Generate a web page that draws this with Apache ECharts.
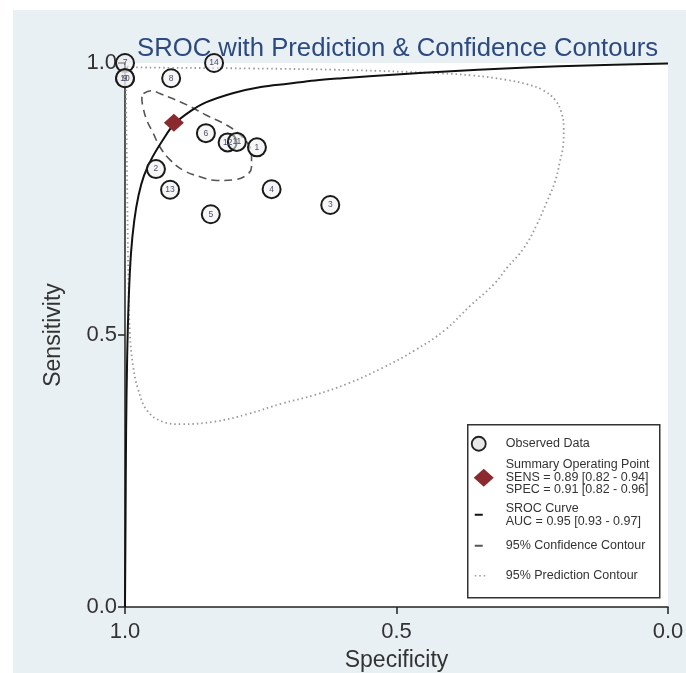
<!DOCTYPE html>
<html>
	<head>
		<meta charset="utf-8" />
		<title>SROC</title>
		<script src="https://cdn.jsdelivr.net/npm/echarts@6.0.0/dist/echarts.min.js"></script>
		<style>
			html, body {
				margin: 0;
				padding: 0;
				background: #fff;
			}
			#chart {
				width: 686px;
				height: 673px;
			}
		</style>
	</head>
	<body>
		<div id="chart"></div>
		<script>
			// 研究编号 / 特异度 / 灵敏度
			var studyNo = ['1', '2', '3', '4', '5', '6', '7', '8', '9', '10', '12', '11', '13', '14'];
			var studySpec = [0.757, 0.943, 0.622, 0.730, 0.842, 0.851, 1.000, 0.915, 1.000, 1.000, 0.811, 0.794, 0.917, 0.836];
			var studySens = [0.845, 0.805, 0.739, 0.768, 0.722, 0.871, 1.000, 0.972, 0.972, 0.972, 0.854, 0.855, 0.767, 1.000];

			// 汇总点
			var summarySpec = 0.91;
			var summarySens = 0.89;

			// SROC曲线
			var srocSpec = [0.000, 0.100, 0.200, 0.300, 0.400, 0.500, 0.600, 0.650, 0.700, 0.750, 0.800, 0.850, 0.880, 0.910, 0.930, 0.950, 0.965, 0.975, 0.983, 0.989, 0.993, 0.996, 0.998, 0.999, 1.000];
			var srocSens = [0.999, 0.997, 0.994, 0.990, 0.985, 0.979, 0.972, 0.968, 0.962, 0.956, 0.945, 0.928, 0.911, 0.887, 0.859, 0.826, 0.793, 0.757, 0.710, 0.650, 0.570, 0.460, 0.320, 0.160, 0.000];

			// 95%置信区域
			var confSpec = [0.966, 0.951, 0.936, 0.886, 0.850, 0.813, 0.788, 0.772, 0.767, 0.767, 0.776, 0.801, 0.831, 0.862, 0.893, 0.917, 0.936, 0.948, 0.960, 0.967, 0.969, 0.966];
			var confSens = [0.944, 0.949, 0.944, 0.923, 0.904, 0.886, 0.868, 0.849, 0.828, 0.809, 0.794, 0.785, 0.784, 0.791, 0.803, 0.822, 0.846, 0.871, 0.895, 0.920, 0.935, 0.944];

			// 95%预测区域
			var predSpec = [0.996, 0.978, 0.770, 0.586, 0.420, 0.359, 0.297, 0.260, 0.230, 0.208, 0.196, 0.192, 0.193, 0.199, 0.208, 0.223, 0.242, 0.266, 0.297, 0.319, 0.365, 0.411, 0.466, 0.527, 0.589, 0.650, 0.711, 0.773, 0.834, 0.896, 0.932, 0.960, 0.9755, 0.985, 0.991, 0.994, 0.9963, 0.998, 0.996];
			var predSens = [0.994, 0.992, 0.990, 0.987, 0.981, 0.977, 0.969, 0.961, 0.950, 0.932, 0.908, 0.880, 0.849, 0.819, 0.782, 0.745, 0.702, 0.659, 0.623, 0.595, 0.553, 0.509, 0.472, 0.439, 0.411, 0.390, 0.374, 0.355, 0.341, 0.336, 0.341, 0.362, 0.399, 0.442, 0.503, 0.619, 0.803, 0.960, 0.994];

			var legendText = [
				'Observed Data',
				'Summary Operating Point\nSENS = 0.89 [0.82 - 0.94]\nSPEC = 0.91 [0.82 - 0.96]',
				'SROC Curve\nAUC = 0.95 [0.93 - 0.97]',
				'95% Confidence Contour',
				'95% Prediction Contour'
			];

			function zip(a, b) {
				return a.map(function(v, i) {
					return [v, b[i]];
				});
			}

			var font = "'Liberation Sans', Arial, sans-serif";
			var chart = echarts.init(document.getElementById('chart'), null, { renderer: 'canvas' });

			var points = studyNo.map(function(n, i) {
				return { name: n, value: [studySpec[i], studySens[i]] };
			});

			var option = {
				backgroundColor: '#e8f0f3',
				animation: false,
				textStyle: { fontFamily: font },
				title: {
					text: 'SROC with Prediction & Confidence Contours',
					left: 132,
					top: 31,
					textStyle: {
						fontFamily: font,
						fontSize: 25.7,
						fontWeight: 'normal',
						color: '#2c4a80'
					}
				},
				grid: {
					left: 125,
					right: 18,
					top: 63,
					bottom: 66,
					containLabel: false,
					outerBoundsMode: 'none',
					show: true,
					backgroundColor: '#fff',
					borderWidth: 0
				},
				xAxis: {
					type: 'value',
					min: 0,
					max: 1,
					interval: 0.5,
					inverse: true,
					name: 'Specificity',
					nameLocation: 'middle',
					nameGap: 42,
					nameTextStyle: { fontSize: 23, color: '#333', fontFamily: font },
					axisLine: { show: true, onZero: false, lineStyle: { color: '#222', width: 1.5 } },
					axisTick: { show: true, length: 7, lineStyle: { color: '#222', width: 1.5 } },
					axisLabel: {
						fontSize: 22,
						color: '#333',
						margin: 14,
						formatter: function(v) { return v.toFixed(1); }
					},
					splitLine: { show: false }
				},
				yAxis: {
					type: 'value',
					position: 'left',
					min: 0,
					max: 1,
					interval: 0.5,
					name: 'Sensitivity',
					nameLocation: 'middle',
					nameGap: 60,
					nameTextStyle: { fontSize: 23, color: '#333', fontFamily: font },
					axisLine: { show: true, onZero: false, lineStyle: { color: '#222', width: 1.5 } },
					axisTick: { show: true, length: 7, lineStyle: { color: '#222', width: 1.5 } },
					axisLabel: {
						fontSize: 22,
						color: '#333',
						margin: 8,
						formatter: function(v) { return v.toFixed(1); }
					},
					splitLine: { show: false }
				},
				series: [
					{
						name: 'pred',
						type: 'line',
						data: zip(predSpec, predSens),
						symbol: 'none',
						smooth: 0.4,
						clip: false,
						lineStyle: { color: '#999', width: 1.8, type: [1.5, 3] },
						z: 1
					},
					{
						name: 'conf',
						type: 'line',
						data: zip(confSpec, confSens),
						symbol: 'none',
						smooth: 0.4,
						lineStyle: { color: '#555', width: 1.6, type: [8, 5] },
						z: 2
					},
					{
						name: 'sroc',
						type: 'line',
						data: zip(srocSpec, srocSens),
						symbol: 'none',
						smooth: 0.35,
						lineStyle: { color: '#111', width: 2 },
						z: 3
					},
					{
						name: 'obs',
						type: 'scatter',
						data: points,
						symbol: 'circle',
						symbolSize: 18,
						clip: false,
						itemStyle: {
							color: 'rgba(238,238,238,0.55)',
							borderColor: '#1a1a1a',
							borderWidth: 2,
							opacity: 1
						},
						label: {
							show: true,
							position: 'inside',
							formatter: '{b}',
							fontSize: 8.5,
							color: '#4a5068'
						},
						z: 4
					},
					{
						name: 'summary',
						type: 'scatter',
						data: [[summarySpec, summarySens]],
						symbol: 'diamond',
						symbolSize: [20, 18],
						itemStyle: { color: '#8b2a2e', opacity: 1 },
						z: 5
					}
				],
				graphic: [
					{ type: 'rect', left: 0, top: 0, shape: { width: 13, height: 673 }, style: { fill: '#fff' } },
					{ type: 'rect', left: 0, top: 0, shape: { width: 686, height: 10 }, style: { fill: '#fff' } },
					{
						type: 'group',
						left: 467,
						top: 424,
						z: 100,
						children: [
							{ type: 'rect', shape: { x: 0, y: 0, width: 192, height: 173 }, style: { fill: '#fff', stroke: '#333', lineWidth: 1.5 } },
							{ type: 'circle', shape: { cx: 11, cy: 19, r: 7 }, style: { fill: '#e8e8e8', stroke: '#222', lineWidth: 1.8 } },
							{ type: 'text', x: 38, y: 19, style: { text: legendText[0], fontSize: 12.5, fontFamily: font, fill: '#333', verticalAlign: 'middle' } },
							{ type: 'polygon', shape: { points: [[6, 53], [16, 44], [26, 53], [16, 62]] }, style: { fill: '#8b2a2e' } },
							{ type: 'text', x: 38, y: 34, style: { text: legendText[1], fontSize: 12.5, fontFamily: font, fill: '#333', lineHeight: 12.5 } },
							{ type: 'line', shape: { x1: 7, y1: 90, x2: 15, y2: 90 }, style: { stroke: '#111', lineWidth: 2 } },
							{ type: 'text', x: 38, y: 78, style: { text: legendText[2], fontSize: 12.5, fontFamily: font, fill: '#333', lineHeight: 12.5 } },
							{ type: 'line', shape: { x1: 7, y1: 121, x2: 15, y2: 121 }, style: { stroke: '#555', lineWidth: 2 } },
							{ type: 'text', x: 38, y: 121, style: { text: legendText[3], fontSize: 12.5, fontFamily: font, fill: '#333', verticalAlign: 'middle' } },
							{ type: 'line', shape: { x1: 7, y1: 151, x2: 18, y2: 151 }, style: { stroke: '#999', lineWidth: 1.5, lineDash: [1.5, 3] } },
							{ type: 'text', x: 38, y: 151, style: { text: legendText[4], fontSize: 12.5, fontFamily: font, fill: '#333', verticalAlign: 'middle' } }
						]
					}
				]
			};

			chart.setOption(option);
		</script>
	</body>
</html>
